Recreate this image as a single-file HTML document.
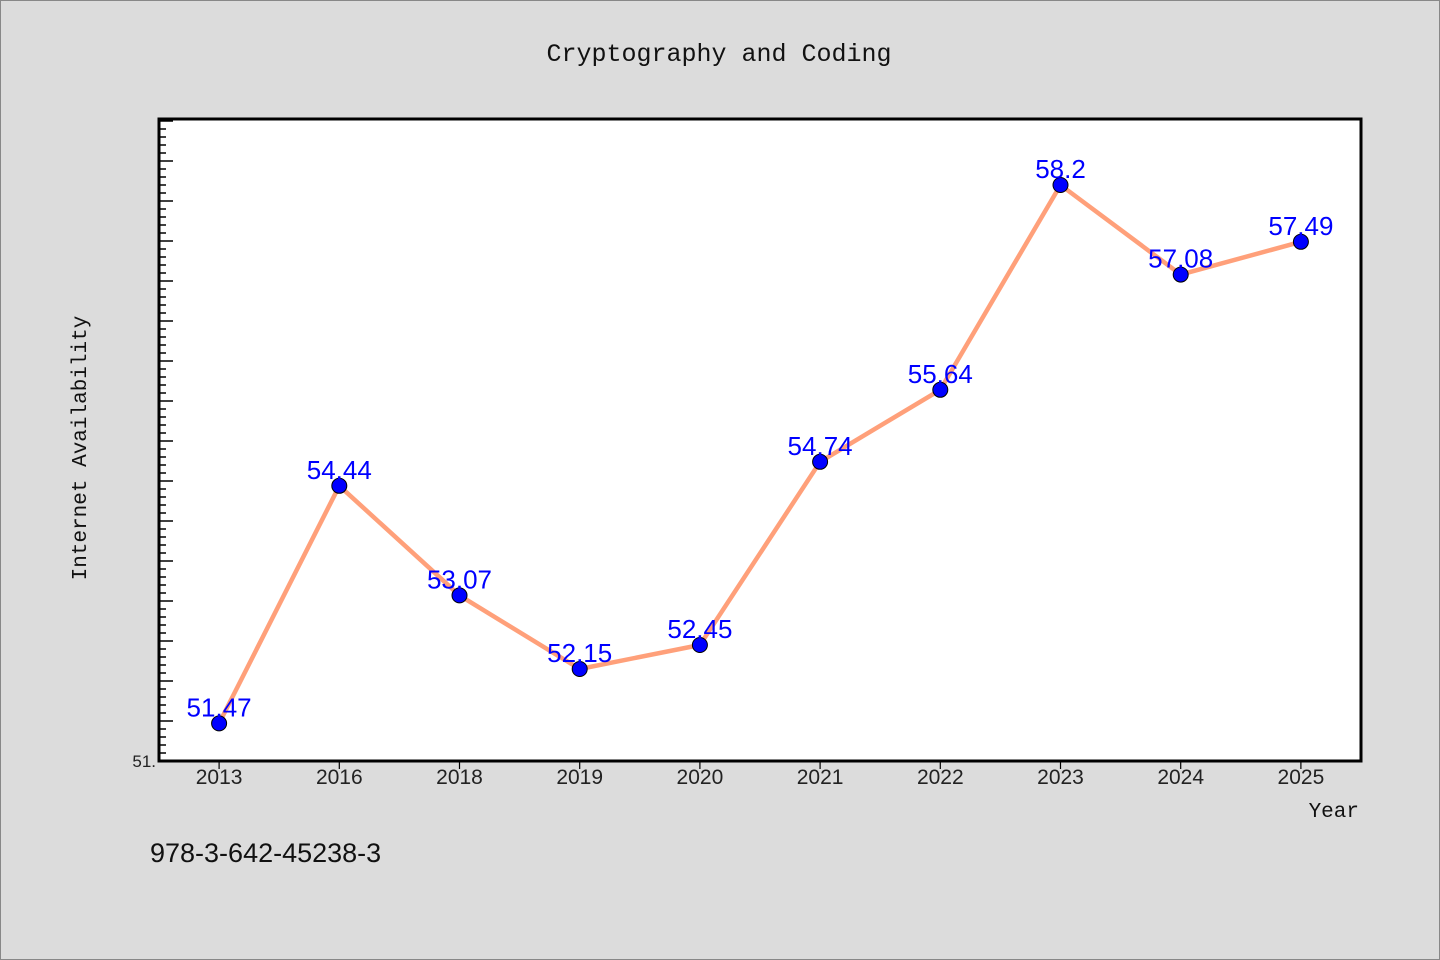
<!DOCTYPE html>
<html><head><meta charset="utf-8"><style>
html,body{margin:0;padding:0;background:#dcdcdc;}
svg{display:block;}
</style></head><body>
<svg id="c" width="1440" height="960" xmlns="http://www.w3.org/2000/svg">
<rect x="0.5" y="0.5" width="1439" height="959" fill="#dcdcdc" stroke="#888"/>
<text x="719" y="61" text-anchor="middle" font-family="'Liberation Mono','WenQuanYi Zen Hei',monospace" font-size="25" fill="#111">Cryptography and Coding</text>
<rect x="159" y="119" width="1202" height="642" fill="#fff"/>
<g id="ticks"></g>
<g id="series"></g>
<rect x="159" y="119" width="1202" height="642" fill="none" stroke="#000" stroke-width="3"/>
<text x="86" y="448" transform="rotate(-90 86 448)" text-anchor="middle" font-family="'Liberation Mono','WenQuanYi Zen Hei',monospace" font-size="21" fill="#111">Internet Availability</text>
<text x="1359" y="817" text-anchor="end" font-family="'Liberation Mono','WenQuanYi Zen Hei',monospace" font-size="21" fill="#111">Year</text>
<text x="150" y="862" font-family="'WenQuanYi Zen Hei','Liberation Sans',sans-serif" font-size="27" fill="#111">978-3-642-45238-3</text>
</svg>
<script>
const categories = ["2013","2016","2018","2019","2020","2021","2022","2023","2024","2025"];
const values = [51.47,54.44,53.07,52.15,52.45,54.74,55.64,58.2,57.08,57.49];
const valueLabels = ["51.47","54.44","53.07","52.15","52.45","54.74","55.64","58.2","57.08","57.49"];
const yMin = 51, yMax = 59.025;
const NS="http://www.w3.org/2000/svg";
const L=159,R=1361,T=119,B=761;
const band=(R-L)/categories.length;
function xs(i){return L+band*(i+0.5);}
function ys(v){return B-(v-yMin)/(yMax-yMin)*(B-T);}
function mk(tag,attrs,parent){const e=document.createElementNS(NS,tag);for(const k in attrs)e.setAttribute(k,attrs[k]);parent.appendChild(e);return e;}
const tg=document.getElementById('ticks');
for(let k=0;;k++){
  const v=yMin+k*0.1; if(v>yMax+1e-9)break;
  const y=ys(v); const major=(k%5===0);
  const t=mk('line',{x1:L,x2:L+(major?14:7),y1:y,y2:y,stroke:'#000','stroke-width':1.5},tg);
  
  
}
const yl=mk('text',{x:L-3,y:B+6,'text-anchor':'end','font-family':"'WenQuanYi Zen Hei','Liberation Sans',sans-serif",'font-size':17,fill:'#222'},tg);
yl.textContent=yMin+".";


categories.forEach((c,i)=>{
  const t=mk('line',{x1:xs(i),x2:xs(i),y1:B,y2:B+8,stroke:'#000','stroke-width':1.2},tg);
  
  
  const l=mk('text',{x:xs(i),y:B+23,'text-anchor':'middle','font-family':"'WenQuanYi Zen Hei','Liberation Sans',sans-serif",'font-size':21,fill:'#222'},tg);
  l.textContent=c;
  
  
});
const sg=document.getElementById('series');
const pl=mk('polyline',{points:values.map((v,i)=>xs(i)+','+ys(v)).join(' '),fill:'none',stroke:'#ffa07a','stroke-width':4.5,'stroke-linejoin':'round'},sg);


values.forEach((v,i)=>{
  const c=mk('circle',{cx:xs(i),cy:ys(v),r:7.5,fill:'#0000ff',stroke:'#000','stroke-width':1},sg);
  
  
  const t=mk('text',{x:xs(i),y:ys(v)-7,'text-anchor':'middle','font-family':"'Liberation Sans',sans-serif",'font-size':26,fill:'#0000ff'},sg);
  t.textContent=valueLabels[i];
  
  
});
</script>
</body></html>
